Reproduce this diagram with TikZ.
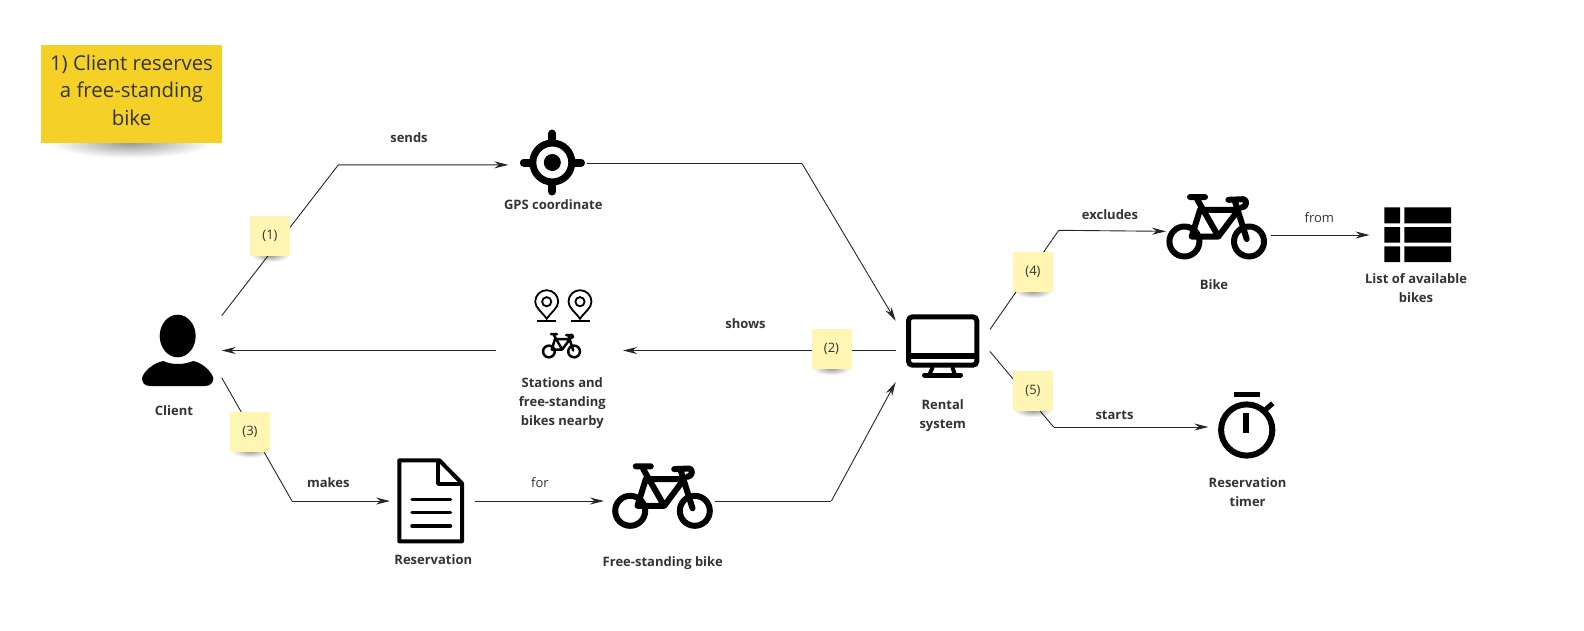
\documentclass[tikz,border=0pt]{standalone}
\usepackage{fontspec}
\setmainfont{Open Sans}
\usetikzlibrary{arrows.meta,fadings}
\definecolor{inkgray}{HTML}{333333}
\definecolor{notepale}{HTML}{FFF6B3}
\definecolor{notegold}{HTML}{F5D128}
\tikzfading[name=softshadow, inner color=transparent!60, outer color=transparent!100]
\tikzset{
  link/.style={draw=black!85, line width=.9pt, -{Stealth[length=14pt,width=7pt]}},
  plainlink/.style={draw=black!85, line width=.9pt},
  iconbox/.style={inner sep=0pt, outer sep=0pt},
  iconlabel/.style={font=\fontsize{13}{19}\selectfont\bfseries, text=inkgray, align=center, inner sep=0pt},
  linklabel/.style={font=\fontsize{13}{18}\selectfont\bfseries, text=inkgray, inner sep=0pt},
  wordlabel/.style={font=\fontsize{13}{18}\selectfont, text=inkgray, inner sep=0pt},
  noteshade/.style={fill=black, path fading=softshadow},
  sticky/.style={fill=notepale, minimum width=40pt, minimum height=40pt, inner sep=0pt, text=inkgray,
    font=\fontsize{13}{18}\selectfont},
  stickybig/.style={fill=notegold, minimum width=181pt, minimum height=98pt, inner sep=0pt, text=inkgray,
    align=center, font=\fontsize{20.4}{27.5}\selectfont},
  bikelw/.store in=\bikelw, bikelw=6,
  bikeicon/.pic={
    \draw[line width=\bikelw, line cap=round, line join=round]
      (-32.3,14.5) circle (15) (32.3,14.5) circle (15)
      (-26.7,-30) -- (-11.7,-30)
      (-19.3,-27.2) -- (1.7,9.5) -- (21.7,-17.2) -- (-16.7,-17.2)
      (-16.7,-17.2) -- (-25,9.5) -- (1.7,9.5)
      (11.7,-27.2) -- (26.7,-27.8) .. controls (30.5,-27.5) and (30.5,-20) .. (25,-19.5)
      (18.3,-25.5) -- (30,12);
  },
  pinicon/.pic={
    \draw[line width=1.8pt] (0,17) .. controls (-5,10) and (-11.5,6) .. (-11.5,0) arc (180:360:11.5)
      .. controls (11.5,6) and (5,10) .. (0,17) -- cycle;
    \draw[line width=1.8pt] (0,0) circle (4.6);
    \draw[line width=1.8pt] (-9.5,19.5) -- (9.5,19.5);
  }
}
\begin{document}
\begin{tikzpicture}[x=1pt,y=-1pt]
  \useasboundingbox (0,0) rectangle (1584,630);

  \node[iconbox, minimum width=89.4pt, minimum height=62pt] (client) at (177,346.7) {};
  \node[iconbox, minimum width=78.7pt, minimum height=66pt] (gps) at (547.7,163.5) {};
  \node[iconbox, minimum width=127pt, minimum height=60pt] (stations) at (559.5,350.5) {};
  \node[iconbox, minimum width=94.3pt, minimum height=61.3pt] (rental) at (942.8,351.5) {};
  \node[iconbox, minimum width=85pt, minimum height=85pt] (reservation) at (432.5,501) {};
  \node[iconbox, minimum width=111pt, minimum height=64pt] (standbike) at (659.5,501) {};
  \node[iconbox, minimum width=105pt, minimum height=64pt] (bike) at (1218.5,235) {};
  \node[iconbox, minimum width=95pt, minimum height=56pt] (bikelist) at (1417,235) {};
  \node[iconbox, minimum width=76.8pt, minimum height=60pt] (timer) at (1246.7,427) {};

  \draw[plainlink] (client.north east) -- (338.4,164.8) edge[link] (gps.182);
  \draw[plainlink] (gps.east) -- (802,163.5) edge[link] (rental.north west);
  \draw[link] (rental.west |- stations.east) -- (stations.east);
  \draw[link] (stations.west) -- (stations.west -| client.east);
  \draw[plainlink] (client.south east) -- (292,501) edge[link] (reservation.west);
  \draw[link] (reservation.east) -- (standbike.west);
  \draw[plainlink] (standbike.east) -- (831.4,501) edge[link] (rental.south west);
  \draw[plainlink] (rental.25) -- (1058.7,230.3) edge[link] (bike.176);
  \draw[link] (bike.east) -- (bikelist.west);
  \draw[plainlink] (rental.east) -- (1053.6,427) edge[link] (timer.west);

  \fill (177.7,336) ellipse (18 and 21.3);
  \fill (150,386) .. controls (144,386) and (142,382) .. (142,378.3)
    .. controls (143,372) and (153,363) .. (163.3,361)
    .. controls (168,363) and (172,364) .. (177.7,364)
    .. controls (183,364) and (188,363) .. (193.3,361)
    .. controls (203,363) and (212,372) .. (213.3,378.3)
    .. controls (213.3,382) and (211,386) .. (205,386) -- cycle;

  \draw[line width=7pt] (552.3,162.5) circle (19.5);
  \fill (552.3,162.5) circle (8.5);
  \draw[line width=8pt, line cap=round] (552.3,133.5) -- (552.3,140) (552.3,185) -- (552.3,191.5)
    (523.8,162.5) -- (530,162.5) (574.5,162.5) -- (581,162.5);

  \pic at (546.7,301.7) {pinicon};
  \pic at (580,301.7) {pinicon};
  \pic[scale=.39, bikelw=2.5] at (561.5,345.8) {bikeicon};

  \draw[line width=5pt, rounded corners=4pt] (908.5,316.8) rectangle (976.8,365.2);
  \draw[line width=6pt] (908.5,356.3) -- (976.8,356.3);
  \draw[line width=4pt] (932.7,367) -- (929.3,375) (952.3,367) -- (955,375);
  \draw[line width=5pt, line cap=round] (924.5,375) -- (960.5,375);

  \draw[line width=4pt, line join=round] (439.3,460.3) -- (399.3,460.3) -- (399.3,541.3) -- (462,541.3)
    -- (462,483.3) -- cycle;
  \draw[line width=3.5pt, line join=round] (438,460.3) -- (438,484) -- (462,484);
  \draw[line width=3.5pt, line cap=round] (412,499.3) -- (450.5,499.3) (412,512.7) -- (450.5,512.7)
    (412,526) -- (450.5,526);

  \pic at (662.5,496.3) {bikeicon};
  \pic at (1216.7,227) {bikeicon};

  \fill (1384.3,207.3) rectangle (1400,223.3) (1404.3,207.3) rectangle (1451,223.3);
  \fill (1384.3,227) rectangle (1400,242.7) (1404.3,227) rectangle (1451,242.7);
  \fill (1384.3,246.3) rectangle (1400,262) (1404.3,246.3) rectangle (1451,262);

  \draw[line width=6pt] (1246.7,430) circle (25.6);
  \fill (1234,391.7) rectangle (1260,397.3);
  \fill (1243.3,413) rectangle (1249.3,433);
  \draw[line width=5pt] (1263.5,411.5) -- (1272.7,403.3);

  \node[iconlabel] (clientname) at (174,410.7) {Client};
  \node[iconlabel] (gpsname) at (553.3,204.3) {GPS coordinate};
  \node[iconlabel] (stationsname) at (562.3,403.2) {Stations and\\free-standing\\bikes nearby};
  \node[iconlabel] (rentalname) at (942.7,415.5) {Rental\\system};
  \node[iconlabel] (reservationname) at (433.3,560) {Reservation};
  \node[iconlabel] (standbikename) at (662.7,562.7) {Free-standing bike};
  \node[iconlabel] (bikename) at (1214,285) {Bike};
  \node[iconlabel] (bikelistname) at (1416,288) {List of available\\bikes};
  \node[iconlabel] (timername) at (1247.6,492.5) {Reservation\\timer};

  \node[linklabel] (sendsword) at (409,137.4) {sends};
  \node[linklabel] (showsword) at (745.5,323.3) {shows};
  \node[linklabel] (makesword) at (328.3,483) {makes};
  \node[linklabel] (excludesword) at (1110,215) {excludes};
  \node[linklabel] (startsword) at (1114.5,415) {starts};
  \node[wordlabel] (forword) at (540,482.3) {for};
  \node[wordlabel] (fromword) at (1319.3,217.3) {from};

  \foreach \nx/\ny in {270/236, 831.5/349, 250/431.5, 1033/272, 1033/391}
    \fill[noteshade] (\nx-19,\ny+13) rectangle (\nx+19,\ny+26);
  \fill[noteshade] (50,128) rectangle (212,158);

  \node[sticky] (noteone) at (270,236) {(1)};
  \node[sticky] (notetwo) at (831.5,349) {(2)};
  \node[sticky] (notethree) at (250,431.5) {(3)};
  \node[sticky] (notefour) at (1033,272) {(4)};
  \node[sticky] (notefive) at (1033,391) {(5)};
  \node[stickybig] (titlenote) at (131.5,94) {1) Client reserves\\a free-standing\\bike\rule[-8pt]{0pt}{0pt}};
\end{tikzpicture}
\end{document}
